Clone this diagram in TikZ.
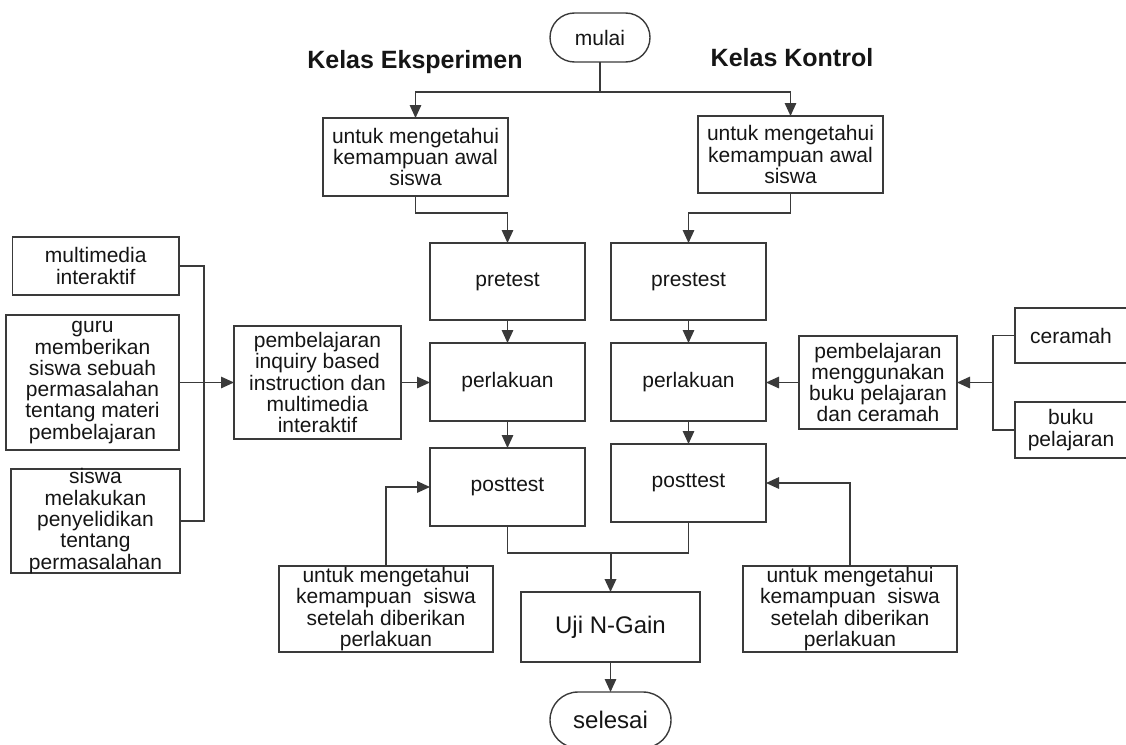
\documentclass[tikz,border=0pt]{standalone}
\usepackage{fontspec}
\setmainfont{Liberation Sans}
\usetikzlibrary{arrows.meta,shapes.misc}
\definecolor{lnc}{HTML}{3A3A3A}
\definecolor{txc}{HTML}{151515}
\begin{document}
\begin{tikzpicture}[x=1pt,y=-1pt,
  ln/.style={draw=lnc, line width=1.4pt},
  box/.style={ln, rectangle, inner sep=0pt, outer sep=0pt},
  term/.style={ln, rounded rectangle, inner sep=0pt, outer sep=0pt},
  txt/.style={align=center, inner sep=0pt, text=txc, font=\fontsize{21}{21.3}\selectfont},
  big/.style={txt, font=\fontsize{24}{26}\selectfont},
  head/.style={inner sep=0pt, text=txc, font=\fontsize{25}{28}\selectfont\bfseries},
  arr/.style={ln, -{Triangle[length=13pt,width=11.5pt]}},
  thickarr/.style={arr, line width=2pt},
]
\useasboundingbox (0,0) rectangle (1126,744);

% terminals
\node[term, minimum width=100pt, minimum height=49pt] (mulai) at (600,37.5) {};
\node[txt] (mulait) at (mulai) {mulai};
\node[term, minimum width=121pt, minimum height=56pt] (sel) at (610.5,720) {};
\node[big] (selt) at (sel) {selesai};

% headings
\node[head] (kE) at (415,62) {Kelas Eksperimen};
\node[head] (kK) at (792,58) {Kelas Kontrol};

% top boxes
\node[box, minimum width=185pt, minimum height=78pt] (e1) at (415.5,157) {};
\node[txt] (e1t) at (e1) {untuk mengetahui\\kemampuan awal\\siswa};
\node[box, minimum width=185pt, minimum height=77pt] (k1) at (790.5,154.5) {};
\node[txt] (k1t) at (k1) {untuk mengetahui\\kemampuan awal\\siswa};

% experiment column
\node[box, minimum width=155pt, minimum height=77pt] (preE) at (507.5,281.5) {};
\node[txt] (preEt) at (preE) {pretest};
\node[box, minimum width=155pt, minimum height=78pt] (perE) at (507.5,382) {};
\node[txt] (perEt) at (perE) {perlakuan};
\node[box, minimum width=155pt, minimum height=78pt] (postE) at (507.5,487) {};
\node[txt] (postEt) at (postE) {posttest};

% control column
\node[box, minimum width=155pt, minimum height=77pt] (preK) at (688.5,281.5) {};
\node[txt] (preKt) at (preK) {prestest};
\node[box, minimum width=155pt, minimum height=78pt] (perK) at (688.5,382) {};
\node[txt] (perKt) at (perK) {perlakuan};
\node[box, minimum width=155pt, minimum height=78pt] (postK) at (688.5,483) {};
\node[txt] (postKt) at (postK) {posttest};

% left side
\node[box, minimum width=166.5pt, minimum height=58pt] (mm) at (95.75,266) {};
\node[txt] (mmt) at (mm) {multimedia\\interaktif};
\node[box, minimum width=173pt, minimum height=135pt] (guru) at (92.5,382.5) {};
\node[txt] (gurut) at (guru) {guru\\memberikan\\siswa sebuah\\permasalahan\\tentang materi\\pembelajaran};
\node[box, minimum width=169pt, minimum height=104pt] (sw) at (95.5,521) {};
\node[txt] (swt) at (sw) {siswa\\melakukan\\penyelidikan\\tentang\\permasalahan};
\node[box, minimum width=167pt, minimum height=113pt] (ibi) at (317.5,382.5) {};
\node[txt] (ibit) at (ibi) {pembelajaran\\inquiry based\\instruction dan\\multimedia\\interaktif};

% right side
\node[box, minimum width=158pt, minimum height=93pt] (pmk) at (878,382.5) {};
\node[txt] (pmkt) at (pmk) {pembelajaran\\menggunakan\\buku pelajaran\\dan ceramah};
\node[box, minimum width=112pt, minimum height=55pt] (cer) at (1071,335.5) {};
\node[txt] (cert) at (cer) {ceramah};
\node[box, minimum width=112pt, minimum height=56pt] (buku) at (1071,430) {};
\node[txt] (bukut) at (buku) {buku\\pelajaran};

% feedback boxes
\node[box, minimum width=214pt, minimum height=86pt] (fbL) at (386,609) {};
\node[txt] (fbLt) at (fbL) {untuk mengetahui\\kemampuan\ \ siswa\\setelah diberikan\\perlakuan};
\node[box, minimum width=214pt, minimum height=86pt] (fbR) at (850,609) {};
\node[txt] (fbRt) at (fbR) {untuk mengetahui\\kemampuan\ \ siswa\\setelah diberikan\\perlakuan};

% N-Gain
\node[box, minimum width=179pt, minimum height=70pt] (uji) at (610.5,627) {};
\node[big] (ujit) at (uji) {Uji N-Gain};

% coordinates
\coordinate (sp) at (600,92);
\coordinate (lbus) at (204,521);
\coordinate (rbus) at (993,430);
\coordinate (rj) at (993,382.5);
\coordinate (mg) at (610.5,553);

% connectors
\draw[ln] (mulai.south) -- (sp);
\draw[arr] (sp) -| (e1.north);
\draw[arr] (sp) -| (k1.north);
\draw[arr] (e1.south) -- ++(0,17) -| (preE.north);
\draw[arr] (k1.south) -- ++(0,20) -| (preK.north);
\draw[arr] (preE) -- (perE);
\draw[arr] (perE) -- (postE);
\draw[arr] (preK) -- (perK);
\draw[arr] (perK) -- (postK);

\draw[ln] (mm.east) -| (lbus) -- (sw.east);
\draw[arr] (guru.east) -- (ibi.west);
\draw[arr] (ibi.east) -- (ibi.east -| perE.west);

\draw[ln] (cer.west) -| (rbus) -- (buku.west);
\draw[arr] (rj) -- (pmk.east);
\draw[arr] (pmk.west) -- (pmk.west -| perK.east);

\draw[arr] (fbL.north) |- (postE.west);
\draw[arr] (fbR.north) |- (postK.east);

\draw[ln] (postE.south) -- (postE.south |- mg) -- (postK.south |- mg) -- (postK.south);
\draw[thickarr] (mg) -- (uji.north);
\draw[arr] (uji.south) -- (sel.north);
\end{tikzpicture}
\end{document}
